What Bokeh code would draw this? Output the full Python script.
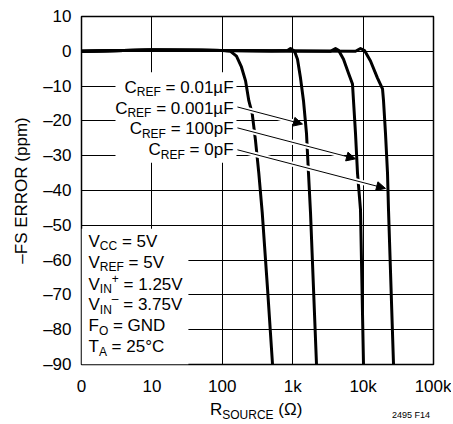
from bokeh.plotting import figure
from bokeh.models import FixedTicker, Label, Arrow, NormalHead, BoxAnnotation, Div
from bokeh.layouts import column
from bokeh.embed import file_html
from bokeh.resources import INLINE
import math

# ---- data (R_SOURCE in ohms, -FS error in ppm); R=1 is the "0" position ----
r_001uF = [1, 10, 50, 100, 131, 159, 187, 214, 238, 266, 296, 330, 369, 439, 517]
e_001uF = [0, 0.4, 0.4, 0.2, 0, -1.4, -4.5, -8.5, -14.2, -17.9, -25.6, -35, -46.3, -68.2, -90]

r_0001uF = [1, 10, 100, 500, 844, 931, 1061, 1170, 1291, 1423, 1570, 1676, 1790, 2178]
e_0001uF = [0, 0.4, 0.2, 0.1, 0.2, 0.8, 0, -2.3, -7.7, -14.2, -23.6, -35, -46.3, -90]

r_100pF = [1, 10, 100, 1000, 3443, 4055, 4477, 5270, 6206, 7068, 7305, 7799, 8327, 9183, 10130]
e_100pF = [0, 0.4, 0.2, 0.1, 0, 0.8, 0.3, -2.3, -6.3, -9.4, -14.2, -23.6, -35, -45.5, -90]

r_0pF = [1, 10, 100, 1000, 7799, 9183, 10480, 12740, 16020, 18870, 19500, 20800, 22220, 22950, 27040]
e_0pF = [0, 0.4, 0.2, 0.1, 0, 0.8, 0.2, -2.8, -7.7, -10.8, -14.2, -23.6, -35, -45.5, -90]

x_ticks = [1, 10, 100, 1000, 10000, 100000]
x_tick_labels = ["0", "10", "100", "1k", "10k", "100k"]
y_ticks = [10, 0, -10, -20, -30, -40, -50, -60, -70, -80, -90]
y_tick_labels = ["10", "0", "–10", "–20", "–30", "–40", "–50", "–60", "–70", "–80", "–90"]

cref_vals = ["= 0.01µF", "= 0.001µF", "= 100pF", "= 0pF"]
y_title = "–FS ERROR (ppm)"
figure_id = "2495 F14"

FONT = "Liberation Sans"
BIG = 17
SMALL = 12

# Liberation Sans (Arial-metric) advance widths, per 1000 em
W = {' ': 278, '=': 584, '.': 278, 'µ': 576, 'F': 611, 'p': 556, 'C': 722, 'R': 722,
     'E': 667, 'V': 667, 'I': 278, 'N': 722, '+': 584, '–': 556, 'O': 778, 'G': 778,
     'D': 722, 'T': 611, 'A': 667, '°': 400, 'S': 667, 'U': 722, '(': 333, ')': 333,
     'Ω': 768, 'k': 500}
for d in "0123456789":
    W[d] = 556


def tw(s, size):
    return sum(W.get(c, 556) for c in s) * size / 1000.0


p = figure(width=451, height=398, x_axis_type="log", x_range=(1, 1e5), y_range=(-90, 10),
           output_backend="svg", toolbar_location=None,
           min_border_left=81, min_border_right=18, min_border_top=16, min_border_bottom=32)
p.background_fill_color = "white"
p.border_fill_color = "white"
p.outline_line_color = "black"
p.outline_line_width = 1.5

xt = FixedTicker(ticks=x_ticks)
yt = FixedTicker(ticks=y_ticks)
p.xaxis.ticker = xt
p.yaxis.ticker = yt
p.xgrid.ticker = xt
p.ygrid.ticker = yt
for g in (p.xgrid, p.ygrid):
    g.grid_line_color = "black"
    g.grid_line_width = 1
    g.grid_line_alpha = 1

p.xaxis.major_label_overrides = {t: l for t, l in zip(x_ticks, x_tick_labels)}
p.yaxis.major_label_overrides = {t: l for t, l in zip(y_ticks, y_tick_labels)}

for ax in (p.xaxis, p.yaxis):
    ax.axis_line_color = None
    ax.major_tick_line_color = None
    ax.minor_tick_line_color = None
    ax.major_tick_out = 0
    ax.major_tick_in = 0
    ax.major_label_text_font = FONT
    ax.major_label_text_font_size = f"{BIG}px"
    ax.major_label_text_color = "black"
p.xaxis.major_label_standoff = 12
p.yaxis.major_label_standoff = 10
p.yaxis.axis_label = y_title
p.yaxis.axis_label_text_font = FONT
p.yaxis.axis_label_text_font_size = f"{BIG}px"
p.yaxis.axis_label_text_font_style = "normal"
p.yaxis.axis_label_text_color = "black"
p.yaxis.axis_label_standoff = 9

# white backgrounds behind the text blocks (hide grid lines there)
p.add_layout(BoxAnnotation(left=3.04, right=159, top=-6, bottom=-32, fill_color="white",
                           fill_alpha=1, line_color=None, level="underlay"))
p.add_layout(BoxAnnotation(left=1, right=33, top=-51, bottom=-90, fill_color="white",
                           fill_alpha=1, line_color=None, level="underlay"))

for xs, ys in ((r_001uF, e_001uF), (r_0001uF, e_0001uF), (r_100pF, e_100pF), (r_0pF, e_0pF)):
    p.line(xs, ys, line_color="black", line_width=3, line_join="round")

# arrows from labels to curves
arr_x0 = [164, 164, 164]
arr_y0 = [-16.0, -22.0, -28.3]
arr_x1 = [1377, 7800, 20800]
arr_y1 = [-20.9, -30.9, -39.4]
hx1, hy1 = [], []
for a, b, c, d in zip(arr_x0, arr_y0, arr_x1, arr_y1):
    f = 0.9
    hx1.append(10 ** (math.log10(a) + f * (math.log10(c) - math.log10(a))))
    hy1.append(b + f * (d - b))
p.segment(arr_x0, arr_y0, hx1, hy1, line_color="white", line_width=5)
for a, b, c, d in zip(arr_x0, arr_y0, arr_x1, arr_y1):
    p.add_layout(Arrow(x_start=a, y_start=b, x_end=c, y_end=d, line_color="black", line_width=1,
                       end=NormalHead(size=9, fill_color="black", line_color="black", line_width=1)))


def rich(x, y, pieces, align="left"):
    """pieces: (text, size_px, y_offset_px); blank texts only add space."""
    total = sum(tw(t, s) for t, s, _ in pieces)
    pos = 0.0 if align == "left" else (-total if align == "right" else -total / 2)
    for text, size, dy in pieces:
        if text.strip():
            p.add_layout(Label(x=x, y=y, x_offset=pos, y_offset=dy, text=text, text_font=FONT,
                               text_font_size=f"{size}px", text_baseline="middle",
                               text_align="left", text_color="black"))
        pos += tw(text, size)


# C_REF labels (right aligned)
cref_y = [-10.3, -16.3, -22.3, -28.3]
for v, cy in zip(cref_vals, cref_y):
    rich(144.3, cy, [("C", BIG, 0), ("REF", SMALL, -5), (" ", BIG, 0), (v, BIG, 0)], align="right")

# conditions block
px = 1.257
rich(px, -54.6, [("V", BIG, 0), ("CC", SMALL, -5), (" ", BIG, 0), ("= 5V", BIG, 0)])
rich(px, -60.6, [("V", BIG, 0), ("REF", SMALL, -5), (" ", BIG, 0), ("= 5V", BIG, 0)])
rich(px, -66.9, [("V", BIG, 0), ("IN", SMALL, -5), ("+", SMALL, 6), (" ", BIG, 0), ("= 1.25V", BIG, 0)])
rich(px, -72.9, [("V", BIG, 0), ("IN", SMALL, -5), ("–", SMALL, 6), (" ", BIG, 0), ("= 3.75V", BIG, 0)])
rich(px, -78.9, [("F", BIG, 0), ("O", SMALL, -5), (" ", BIG, 0), ("= GND", BIG, 0)])
rich(px, -84.9, [("T", BIG, 0), ("A", SMALL, -5), (" ", BIG, 0), ("= 25°C", BIG, 0)])

# x-axis title with subscript and figure id, below the plot
footer = Div(width=451, height=26, margin=(0, 0, 0, 0), text=(
    "<div style=\"position:relative;width:451px;height:26px;font-family:'Liberation Sans';color:#000;\">"
    "<span style=\"position:absolute;left:210px;top:2px;font-size:17px;line-height:20px;white-space:nowrap;\">"
    "R<span style=\"font-size:12px;position:relative;top:4px;\">SOURCE</span> (Ω)</span>"
    "<span style=\"position:absolute;right:21px;top:11px;font-size:9px;line-height:12px;white-space:nowrap;\">"
    + figure_id + "</span></div>"))

layout = column(p, footer, spacing=0)
open("out.html", "w").write(file_html(layout, INLINE))
